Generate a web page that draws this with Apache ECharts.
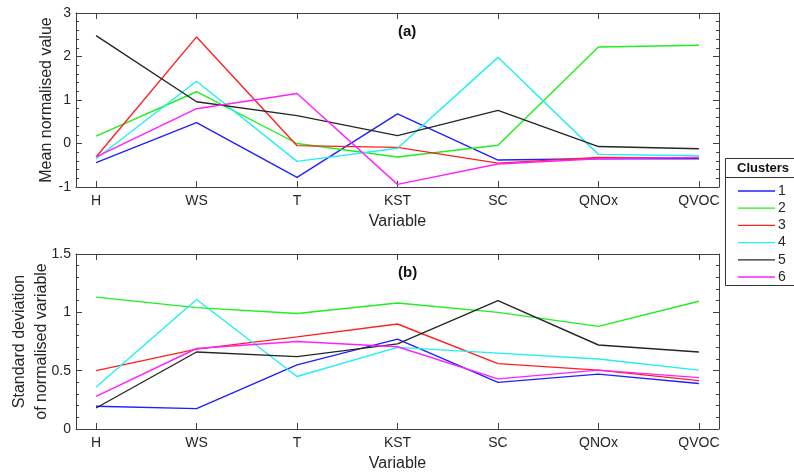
<!DOCTYPE html>
<html>
<head>
<meta charset="utf-8">
<script src="https://cdn.jsdelivr.net/npm/echarts@6/dist/echarts.min.js"></script>
<style>
  html, body { margin: 0; padding: 0; background: #fff; }
  #chart { width: 794px; height: 473px; }
</style>
</head>
<body>
<div id="chart"></div>
<script>
// variables on the x axis
var variables = ['H', 'WS', 'T', 'KST', 'SC', 'QNOx', 'QVOC'];
var clusters = ['1', '2', '3', '4', '5', '6'];
var clusterColors = ['#1f1fff', '#1fef1f', '#ff2020', '#20f0f0', '#262626', '#ff20ff'];

// (a) mean normalised value per cluster
var mean1 = [-0.44, 0.48, -0.78, 0.68, -0.38, -0.35, -0.35];
var mean2 = [0.17, 1.19, 0.0, -0.31, -0.04, 2.22, 2.26];
var mean3 = [-0.31, 2.45, -0.05, -0.09, -0.45, -0.32, -0.33];
var mean4 = [-0.35, 1.43, -0.41, -0.11, 1.98, -0.25, -0.28];
var mean5 = [2.48, 0.96, 0.64, 0.18, 0.76, -0.07, -0.12];
var mean6 = [-0.31, 0.80, 1.15, -0.94, -0.47, -0.35, -0.32];

// (b) standard deviation of normalised variable per cluster
var sd1 = [0.195, 0.175, 0.55, 0.77, 0.40, 0.47, 0.39];
var sd2 = [1.13, 1.04, 0.99, 1.08, 1.00, 0.88, 1.095];
var sd3 = [0.50, 0.685, 0.79, 0.90, 0.56, 0.505, 0.415];
var sd4 = [0.36, 1.11, 0.45, 0.70, 0.65, 0.60, 0.505];
var sd5 = [0.18, 0.66, 0.62, 0.73, 1.10, 0.72, 0.66];
var sd6 = [0.28, 0.69, 0.75, 0.705, 0.43, 0.505, 0.44];

var meanVals = [mean1, mean2, mean3, mean4, mean5, mean6];
var sdVals = [sd1, sd2, sd3, sd4, sd5, sd6];

var font = 'Liberation Sans, Arial, sans-serif';
var txt = '#262626';
var axisCol = '#404040';
var catTicks = [0, 1, 2, 3, 4, 5, 6];

function xAx(grid, pos, labels) {
  return {
    type: 'value', gridIndex: grid, position: pos, min: -0.2, max: 6.2,
    splitLine: { show: false },
    axisLine: { show: true, onZero: false, lineStyle: { color: axisCol, width: 1 } },
    axisTick: { show: true, inside: true, length: 6, customValues: catTicks, lineStyle: { color: axisCol, width: 1 } },
    axisLabel: {
      show: labels, customValues: catTicks, margin: 7,
      color: txt, fontSize: 14, fontFamily: font,
      formatter: function (v) { return variables[Math.round(v)]; }
    },
    name: labels ? 'Variable' : '', nameLocation: 'middle', nameGap: 27, nameMoveOverlap: false,
    nameTextStyle: { color: txt, fontSize: 16, fontFamily: font }
  };
}

function yAx(grid, pos, labels, min, max, step, name, gap) {
  return {
    type: 'value', gridIndex: grid, position: pos, min: min, max: max, interval: step,
    splitLine: { show: false },
    axisLine: { show: true, onZero: false, lineStyle: { color: axisCol, width: 1 } },
    axisTick: { show: true, inside: true, length: 6, lineStyle: { color: axisCol, width: 1 } },
    minorTick: { show: true, splitNumber: 5, length: 3, lineStyle: { color: axisCol, width: 1 } },
    axisLabel: { show: labels, margin: 5, color: txt, fontSize: 14, fontFamily: font },
    name: labels ? name : '', nameLocation: 'middle', nameGap: gap, nameRotate: 90, nameMoveOverlap: false,
    nameTextStyle: { color: txt, fontSize: 16, fontFamily: font, lineHeight: 22 }
  };
}

var series = [];
clusters.forEach(function (c, i) {
  series.push({
    name: c, type: 'line', xAxisIndex: 0, yAxisIndex: 0,
    data: meanVals[i].map(function (v, j) { return [j, v]; }),
    symbol: 'none', color: clusterColors[i],
    lineStyle: { width: 1.4, color: clusterColors[i] }, animation: false
  });
  series.push({
    name: c, type: 'line', xAxisIndex: 2, yAxisIndex: 2,
    data: sdVals[i].map(function (v, j) { return [j, v]; }),
    symbol: 'none', color: clusterColors[i],
    lineStyle: { width: 1.4, color: clusterColors[i] }, animation: false
  });
});

var chart = echarts.init(document.getElementById('chart'), null, { renderer: 'canvas' });
chart.setOption({
  backgroundColor: '#fff',
  animation: false,
  grid: [
    { left: 76, top: 13, width: 643, height: 174, outerBoundsMode: 'none', containLabel: false },
    { left: 76, top: 254, width: 643, height: 175, outerBoundsMode: 'none', containLabel: false }
  ],
  xAxis: [xAx(0, 'bottom', true), xAx(0, 'top', false), xAx(1, 'bottom', true), xAx(1, 'top', false)],
  yAxis: [
    yAx(0, 'left', true, -1, 3, 1, 'Mean normalised value', 18),
    yAx(0, 'right', false, -1, 3, 1, '', 0),
    yAx(1, 'left', true, 0, 1.5, 0.5, 'Standard deviation\nof normalised variable', 23),
    yAx(1, 'right', false, 0, 1.5, 0.5, '', 0)
  ],
  legend: {
    data: clusters, orient: 'vertical', left: 738, top: 184, padding: 0,
    itemWidth: 37, itemHeight: 14, itemGap: 3.2,
    icon: 'path://M0,0 L37,0 L37,1.3 L0,1.3 Z',
    textStyle: { color: txt, fontSize: 14, fontFamily: font, padding: [0, 0, 0, -2] },
    selectedMode: false, z: 10
  },
  graphic: [
    { type: 'rect', z: 1, shape: { x: 725.5, y: 158.5, width: 80, height: 127 },
      style: { fill: '#fff', stroke: '#333', lineWidth: 1 } },
    { type: 'line', z: 1, shape: { x1: 725.5, y1: 177.5, x2: 794, y2: 177.5 },
      style: { stroke: '#333', lineWidth: 1 } },
    { type: 'text', z: 2, x: 763, y: 168,
      style: { text: 'Clusters', fill: '#111', font: 'bold 13px ' + font, textAlign: 'center', textVerticalAlign: 'middle' } },
    { type: 'text', z: 2, x: 398, y: 32,
      style: { text: '(a)', fill: '#111', font: 'bold 15px ' + font, textVerticalAlign: 'middle' } },
    { type: 'text', z: 2, x: 398, y: 273,
      style: { text: '(b)', fill: '#111', font: 'bold 15px ' + font, textVerticalAlign: 'middle' } }
  ],
  series: series
});
</script>
</body>
</html>
